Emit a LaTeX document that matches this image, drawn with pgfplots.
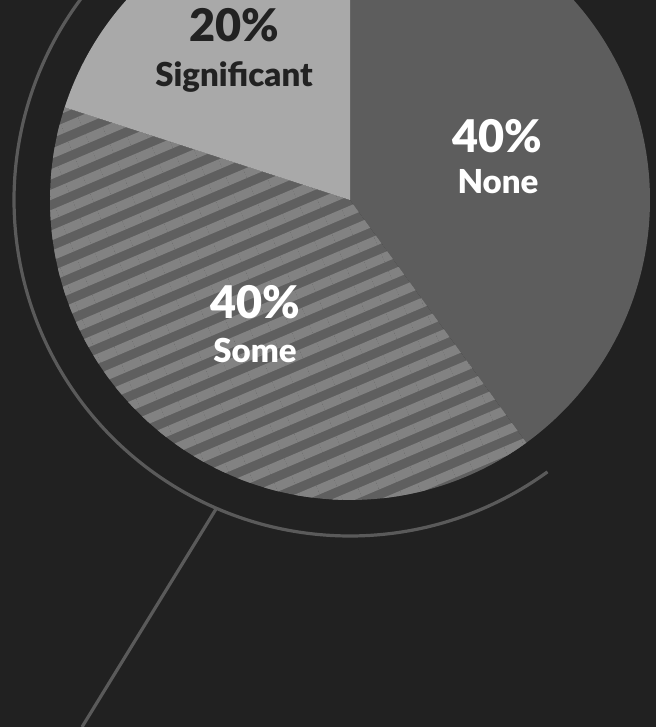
\documentclass[border=0pt]{standalone}
\usepackage{pgfplots}
\pgfplotsset{compat=1.18}
\usepackage{pgfplotstable}
\usetikzlibrary{patterns.meta}
\usepackage{fontspec}
\setmainfont{Lato}[BoldFont={Lato Black}]
\definecolor{bg}{HTML}{212121}
\definecolor{nonec}{HTML}{5D5D5D}
\definecolor{sigc}{HTML}{A9A9A9}
\definecolor{hdark}{HTML}{5F5F5F}
\definecolor{hlight}{HTML}{828282}
\definecolor{ringc}{HTML}{5A5A5A}
\definecolor{darktext}{HTML}{222222}
\pgfplotstableread{
label value
None 40
Some 40
Significant 20
}\pietable
\begin{document}
\begin{tikzpicture}
\pgfplotstablegetelem{0}{value}\of\pietable \let\va\pgfplotsretval
\pgfplotstablegetelem{1}{value}\of\pietable \let\vb\pgfplotsretval
\pgfplotstablegetelem{2}{value}\of\pietable \let\vc\pgfplotsretval
\pgfmathsetmacro\aS{90}
\pgfmathsetmacro\aA{90-3.6*\va}
\pgfmathsetmacro\aB{\aA-3.6*\vb}
\pgfmathsetmacro\aC{\aB-3.6*\vc}
\begin{axis}[
  scale only axis, width=328pt, height=363.5pt,
  xmin=0, xmax=656, ymin=0, ymax=727, y dir=reverse,
  hide axis, clip=true,
]
\fill[bg] (axis cs:0,0) rectangle (axis cs:656,727);
% None
\addplot[fill=nonec, draw=none, domain=\aA:\aS, samples=120]
  ({350+300*cos(x)},{200-300*sin(x)}) -- (axis cs:350,200) -- cycle;
% Some (hatched)
\addplot[fill=hdark, draw=none, domain=\aB:\aA, samples=120,
  postaction={pattern={Lines[angle=23,distance=9.4pt,line width=4.7pt]}, pattern color=hlight}]
  ({350+300*cos(x)},{200-300*sin(x)}) -- (axis cs:350,200) -- cycle;
% Significant
\addplot[fill=sigc, draw=none, domain=\aC:\aB, samples=80]
  ({350+300*cos(x)},{200-300*sin(x)}) -- (axis cs:350,200) -- cycle;
% ring
\addplot[draw=ringc, line width=1.6pt, domain=-270:\aA, samples=200]
  ({350+336*cos(x)},{200-336*sin(x)});
% pointer line
\addplot[draw=ringc, line width=1.6pt] coordinates {(216,509) (82,727)};
% labels
\node[anchor=base, font=\fontsize{22.5}{24}\selectfont\bfseries, text=darktext] at (axis cs:234,42) {20\%};
\node[anchor=base, font=\fontsize{16.5}{18}\selectfont\bfseries, text=darktext] at (axis cs:234,87) {Significant};
\node[anchor=base, font=\fontsize{22.5}{24}\selectfont\bfseries, text=white] at (axis cs:497,152) {40\%};
\node[anchor=base, font=\fontsize{16.5}{18}\selectfont\bfseries, text=white] at (axis cs:498,193) {None};
\node[anchor=base, font=\fontsize{22.5}{24}\selectfont\bfseries, text=white] at (axis cs:255,318) {40\%};
\node[anchor=base, font=\fontsize{16.5}{18}\selectfont\bfseries, text=white] at (axis cs:255,362) {Some};
\end{axis}
\pgfresetboundingbox
\path (current axis.south west) rectangle (current axis.north east);
\end{tikzpicture}
\end{document}
